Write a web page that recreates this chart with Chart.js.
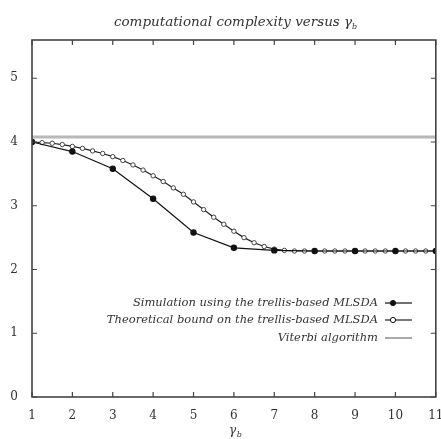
<!DOCTYPE html>
<html>
<head>
<meta charset="utf-8">
<script src="https://cdn.jsdelivr.net/npm/chart.js@4/dist/chart.umd.min.js"></script>
<style>
  html, body { margin: 0; padding: 0; background: #fff; }
  #wrap { width: 441px; height: 439px; }
</style>
</head>
<body>
<div id="wrap"><canvas id="c" width="441" height="439"></canvas></div>
<script>
/* complexity vs gamma_b */

const gammaSim = [1, 2, 3, 4, 5, 6, 7, 8, 9, 10, 11];
const simValues = [4.0, 3.85, 3.58, 3.11, 2.58, 2.34, 2.30, 2.29, 2.29, 2.29, 2.29];

const gammaTheory = [1, 1.25, 1.5, 1.75, 2, 2.25, 2.5, 2.75, 3, 3.25, 3.5, 3.75, 4, 4.25, 4.5, 4.75,
  5, 5.25, 5.5, 5.75, 6, 6.25, 6.5, 6.75, 7, 7.25, 7.5, 7.75, 8, 8.25, 8.5, 8.75, 9, 9.25, 9.5, 9.75,
  10, 10.25, 10.5, 10.75, 11];
const theoryValues = [4.0, 3.99, 3.98, 3.96, 3.93, 3.9, 3.86, 3.82, 3.77, 3.71, 3.64, 3.56, 3.47, 3.38, 3.28, 3.18,
  3.06, 2.94, 2.82, 2.71, 2.6, 2.5, 2.42, 2.36, 2.32, 2.3, 2.29, 2.29, 2.29, 2.29, 2.29, 2.29, 2.29, 2.29, 2.29, 2.29,
  2.29, 2.29, 2.29, 2.29, 2.29];

const gammaViterbi = [1, 11];
const viterbiValues = [4.08, 4.08];

const xTicks = [1, 2, 3, 4, 5, 6, 7, 8, 9, 10, 11];
const yTicks = [0, 1, 2, 3, 4, 5];

const seriesLabels = [
  'Simulation using the trellis-based MLSDA',
  'Theoretical bound on the trellis-based MLSDA',
  'Viterbi algorithm',
];
const titleText = 'computational complexity versus ';

const serif = '"DejaVu Serif", "Liberation Serif", serif';
const axisColor = '#444';

function pts(xs, ys) {
  return xs.map((x, i) => ({ x: x, y: ys[i] }));
}

// frame, inward ticks, title, axis label and legend (gnuplot style)
const decorPlugin = {
  id: 'decor',
  afterDraw(chart) {
    const { ctx, chartArea: a, scales } = chart;
    const xs = scales.x, ys = scales.y;
    ctx.save();
    ctx.strokeStyle = axisColor;
    ctx.lineWidth = 1.6;
    ctx.strokeRect(a.left, a.top, a.right - a.left, a.bottom - a.top);

    ctx.lineWidth = 1.2;
    ctx.beginPath();
    xTicks.forEach((v) => {
      const px = xs.getPixelForValue(v);
      ctx.moveTo(px, a.bottom); ctx.lineTo(px, a.bottom - 5);
      ctx.moveTo(px, a.top); ctx.lineTo(px, a.top + 5);
    });
    yTicks.forEach((v) => {
      const py = ys.getPixelForValue(v);
      ctx.moveTo(a.left, py); ctx.lineTo(a.left + 5, py);
      ctx.moveTo(a.right, py); ctx.lineTo(a.right - 5, py);
    });
    ctx.stroke();

    // title with gamma_b
    ctx.fillStyle = '#333';
    ctx.textBaseline = 'alphabetic';
    ctx.font = 'italic 13.5px ' + serif;
    const tw = ctx.measureText(titleText + 'γ').width;
    const tx = 236 - tw / 2 - 3;
    ctx.textAlign = 'left';
    ctx.fillText(titleText + 'γ', tx, 26);
    ctx.font = 'italic 8px ' + serif;
    ctx.fillText('b', tx + tw, 29);

    // x axis label
    ctx.font = 'italic 12px ' + serif;
    const gx = (a.left + a.right) / 2 - 5;
    ctx.fillText('γ', gx, 434);
    ctx.font = 'italic 8px ' + serif;
    ctx.fillText('b', gx + ctx.measureText('γ').width + 3, 437);

    // legend: text right-aligned, sample on the right
    ctx.font = 'italic 11.5px ' + serif;
    ctx.textAlign = 'right';
    ctx.textBaseline = 'middle';
    const textRight = 378, lx0 = 385, lx1 = 412;
    const rows = [303, 320, 338];
    chart.data.datasets.forEach((ds, i) => {
      const y = rows[i];
      ctx.fillStyle = '#333';
      ctx.fillText(seriesLabels[i], textRight, y);
      ctx.strokeStyle = i === 2 ? '#555' : ds.borderColor;
      ctx.lineWidth = i === 2 ? 1 : ds.borderWidth;
      ctx.beginPath(); ctx.moveTo(lx0, y); ctx.lineTo(lx1, y); ctx.stroke();
      if (i < 2) {
        ctx.beginPath();
        ctx.arc(lx0 + 8, y, 2.6, 0, Math.PI * 2);
        ctx.fillStyle = ds.pointBackgroundColor;
        ctx.fill();
        ctx.lineWidth = 1;
        ctx.strokeStyle = '#111';
        ctx.stroke();
      }
    });
    ctx.restore();
  },
};

new Chart(document.getElementById('c'), {
  type: 'line',
  data: {
    datasets: [
      {
        label: seriesLabels[0],
        data: pts(gammaSim, simValues),
        borderColor: '#111',
        backgroundColor: '#111',
        pointBackgroundColor: '#111',
        pointBorderColor: '#111',
        borderWidth: 1.2,
        pointRadius: 2.6,
        tension: 0,
      },
      {
        label: seriesLabels[1],
        data: pts(gammaTheory, theoryValues),
        borderColor: '#222',
        backgroundColor: '#fff',
        pointBackgroundColor: '#fff',
        pointBorderColor: '#333',
        pointBorderWidth: 0.9,
        borderWidth: 1.2,
        pointRadius: 2.2,
        tension: 0,
      },
      {
        label: seriesLabels[2],
        data: pts(gammaViterbi, viterbiValues),
        borderColor: '#b8b8b8',
        borderWidth: 3,
        pointRadius: 0,
        tension: 0,
      },
    ],
  },
  options: {
    responsive: false,
    animation: false,
    layout: { padding: { top: 40, right: 4, left: 0, bottom: 0 } },
    plugins: {
      legend: { display: false },
      title: { display: false },
      tooltip: { enabled: false },
    },
    scales: {
      x: {
        type: 'linear',
        min: 1,
        max: 11,
        afterBuildTicks: (s) => { s.ticks = xTicks.map((v) => ({ value: v })); },
        afterFit: (s) => { s.height = 42; s.paddingRight = 0; s.paddingLeft = 0; },
        grid: { display: false, drawTicks: false },
        border: { display: false },
        ticks: { color: '#333', padding: 12, maxRotation: 0, autoSkip: false, font: { family: serif, size: 12 } },
      },
      y: {
        type: 'linear',
        min: 0,
        max: 5.6,
        afterBuildTicks: (s) => { s.ticks = yTicks.map((v) => ({ value: v })); },
        afterFit: (s) => { s.width = 32; },
        grid: { display: false, drawTicks: false },
        border: { display: false },
        ticks: { color: '#333', padding: 14, font: { family: serif, size: 12 } },
      },
    },
  },
  plugins: [decorPlugin],
});
</script>
</body>
</html>
